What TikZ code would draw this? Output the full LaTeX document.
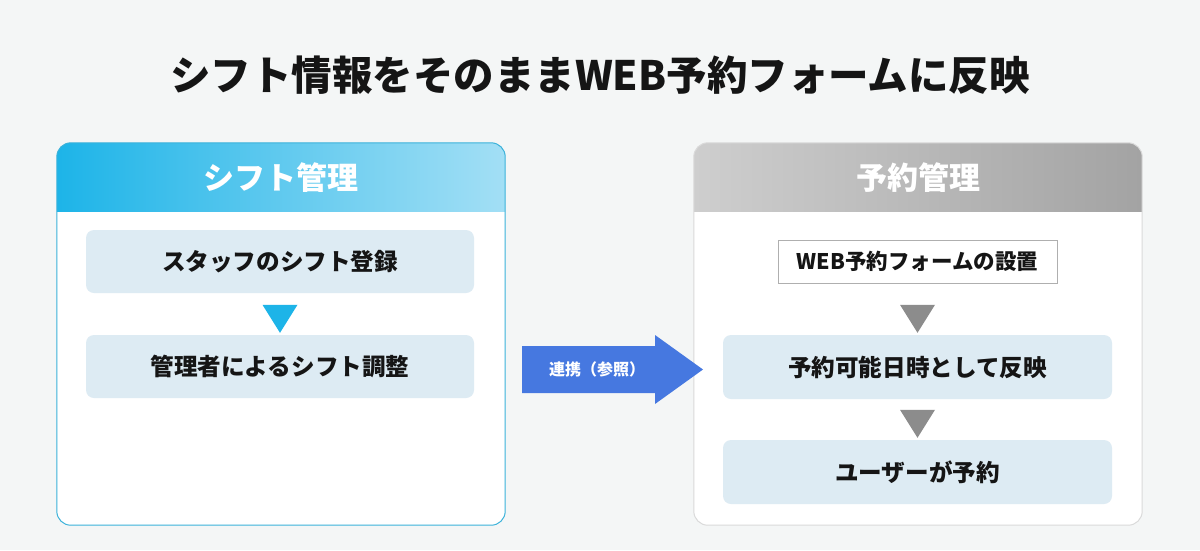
\documentclass[tikz,border=0pt]{standalone}
\usepackage{fontspec}
\setmainfont{Noto Sans CJK JP}
\usepackage{xcolor}
\usepackage{tikz}
\usetikzlibrary{positioning,calc}
\definecolor{shbg}{HTML}{F4F6F6}
\definecolor{shink}{HTML}{151515}
\definecolor{shcyan}{HTML}{1DB4E8}
\definecolor{shcyanlt}{HTML}{A3DFF5}
\definecolor{shcyanln}{HTML}{3BB2DA}
\definecolor{shgreylt}{HTML}{CECECE}
\definecolor{shgreydk}{HTML}{A3A3A3}
\definecolor{shgreyln}{HTML}{DADADA}
\definecolor{shtri}{HTML}{8C8C8C}
\definecolor{shpale}{HTML}{DDEBF3}
\definecolor{shblue}{HTML}{4678E0}

\begin{document}
\begin{tikzpicture}[x=1pt,y=-1pt,font=\bfseries,
  panel/.style={rounded corners=14pt,fill=white,minimum width=448pt,minimum height=382pt,inner sep=0pt},
  stepbox/.style={fill=shpale,rounded corners=8pt,minimum width=388pt,minimum height=63pt,
    text=shink,font=\fontsize{23.6}{28}\selectfont\bfseries},
  headtxt/.style={text=white,font=\fontsize{31}{36}\selectfont\bfseries}]
  \fill[shbg] (0,0) rectangle (1200,550);
  \useasboundingbox (0,0) rectangle (1200,550);
  \node[text=shink,font=\fontsize{40.5}{46}\selectfont\bfseries] (title) at (600,75) {シフト情報をそのままWEB予約フォームに反映};
  % the two panels
  \node[panel] (shift) at (281,334) {};
  \node[panel] (resv) at (918,334) {};
  \shade[left color=shcyan,right color=shcyanlt] ($(shift.north west)+(0,69)$) [rounded corners=14pt]
    -- (shift.north west) -- (shift.north east) [sharp corners] -- ($(shift.north east)+(0,69)$) -- cycle;
  \shade[left color=shgreylt,right color=shgreydk] ($(resv.north west)+(0,69)$) [rounded corners=14pt]
    -- (resv.north west) -- (resv.north east) [sharp corners] -- ($(resv.north east)+(0,69)$) -- cycle;
  \draw[shcyanln,line width=1pt,rounded corners=14pt] (shift.north west) rectangle (shift.south east);
  \draw[shgreyln,line width=1pt,rounded corners=14pt] (resv.north west) rectangle (resv.south east);
  \node[headtxt] (shifthd) at ($(shift.north)+(0,35)$) {シフト管理};
  \node[headtxt] (resvhd) at ($(resv.north)+(0,35)$) {予約管理};
  % steps
  \node[stepbox] (staff) at (280,261.5) {スタッフのシフト登録};
  \node[stepbox] (adjust) at (280,366.5) {管理者によるシフト調整};
  \node[draw=shtri!70,fill=white,line width=0.8pt,minimum width=279pt,minimum height=43pt,
    text=shink,font=\fontsize{21.5}{26}\selectfont\bfseries] (form) at (917.5,261.5) {WEB予約フォームの設置};
  \node[stepbox,minimum width=389pt,minimum height=64pt] (avail) at (917.5,367) {予約可能日時として反映};
  \node[stepbox,minimum width=389pt,minimum height=64pt] (book) at (917.5,472) {ユーザーが予約};
  \foreach \b/\c in {adjust/shcyan,avail/shtri,book/shtri}
    \fill[\c] ($(\b.north)+(-17.5,-30)$) -- ($(\b.north)+(17.5,-30)$) -- ($(\b.north)+(0,-2)$) -- cycle;
  % link arrow
  \fill[shblue] (522,346) -- (655,346) -- (655,335) -- (703,369.5) -- (655,404) -- (655,393) -- (522,393) -- cycle;
  \node[text=white,font=\fontsize{16}{20}\selectfont\bfseries] (link) at (597,369.5) {連携（参照）};
\end{tikzpicture}
\end{document}
